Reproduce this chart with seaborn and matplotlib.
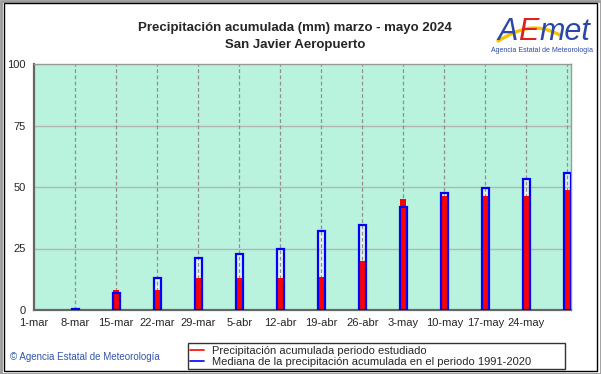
import numpy as np
import pandas as pd
import seaborn as sns
import matplotlib.pyplot as plt
from matplotlib.patches import Rectangle
from matplotlib.lines import Line2D

# etiquetas del eje x (una por semana) y dias desde el 1 de marzo
etiquetas = ['1-mar', '8-mar', '15-mar', '22-mar', '29-mar', '5-abr', '12-abr',
             '19-abr', '26-abr', '3-may', '10-may', '17-may', '24-may']
dias_etiquetas = [0, 7, 14, 21, 28, 35, 42, 49, 56, 63, 70, 77, 84]

# barras: del 8-mar al 31-may
dias_barras = [7, 14, 21, 28, 35, 42, 49, 56, 63, 70, 77, 84, 91]
mediana = [0.6, 6.8, 12.9, 21.0, 22.6, 24.7, 32.1, 34.6, 41.7, 47.4, 49.7, 53.4, 55.8]
observada = [0.0, 8.0, 8.1, 12.9, 13.1, 13.1, 13.6, 19.9, 45.3, 46.3, 46.3, 46.3, 48.8]

df = pd.DataFrame({'dia': dias_barras, 'mediana': mediana, 'observada': observada})

sns.set_theme(style='white')
plt.rcParams['font.family'] = ['Liberation Sans', 'DejaVu Sans']

fig = plt.figure(figsize=(6.01, 3.74), dpi=100)
ax = fig.add_axes([34 / 601, 64 / 374, 537 / 601, 246 / 374])
ax.set_facecolor('#b9f2dd')

# relleno claro de la mediana
sns.barplot(data=df, x='dia', y='mediana', native_scale=True, width=0.17,
            color='#e2f5ee', saturation=1, edgecolor='none', linewidth=0, zorder=1, ax=ax)
# rejilla
for v in [25, 50, 75]:
    ax.axhline(v, color='#b5b5b5', lw=1, zorder=1.5)
for d in dias_barras:
    ax.axvline(d, color='#8f8f8f', lw=0.9, ls=(0, (3, 2)), zorder=1.5)
# precipitacion observada
sns.barplot(data=df, x='dia', y='observada', native_scale=True, width=0.15,
            color='#ff0000', saturation=1, edgecolor='none', linewidth=0, zorder=3, ax=ax)
# contorno de la mediana
sns.barplot(data=df, x='dia', y='mediana', native_scale=True, width=0.17,
            color='#0000ff', saturation=1, fill=False, linewidth=1.6, zorder=4, ax=ax)

ax.set_xlim(0, 91.6)
ax.set_ylim(0, 100)
ax.set_xticks(dias_etiquetas)
ax.set_xticklabels(etiquetas, fontsize=8)
ax.set_yticks([0, 25, 50, 75, 100])
ax.set_yticklabels(['0', '25', '50', '75', '100'], fontsize=8)
ax.tick_params(axis='both', length=0, pad=6)
ax.set_xlabel('')
ax.set_ylabel('')
for lado in ['top', 'right']:
    ax.spines[lado].set_color('#999999')
    ax.spines[lado].set_linewidth(1)
for lado in ['left', 'bottom']:
    ax.spines[lado].set_color('#666666')
    ax.spines[lado].set_linewidth(1.6)

fig.text(295 / 601, 1 - 28 / 374, 'Precipitación acumulada (mm) marzo - mayo 2024',
         ha='center', va='center', fontsize=9.5, fontweight='bold')
fig.text(295 / 601, 1 - 45 / 374, 'San Javier Aeropuerto',
         ha='center', va='center', fontsize=9.5, fontweight='bold')

# logo AEMET aproximado
t = np.linspace(0, 1, 30)
fig.add_artist(Line2D((498 + 62 * t) / 601, 1 - (41 - 13 * np.sin(np.pi * t * 0.85)) / 374,
                      color='#f5c400', lw=2.4, transform=fig.transFigure))
fig.text(497 / 601, 1 - 40 / 374, 'A', ha='left', va='baseline', fontsize=22,
         style='italic', color='#2b48a8')
fig.text(518 / 601, 1 - 40 / 374, 'E', ha='left', va='baseline', fontsize=22,
         style='italic', color='#e02020')
fig.text(539 / 601, 1 - 40 / 374, 'met', ha='left', va='baseline', fontsize=22,
         style='italic', color='#2b48a8')
fig.text(542 / 601, 1 - 50 / 374, 'Agencia Estatal de Meteorología', ha='center', va='center',
         fontsize=5, color='#2b48a8')

fig.text(10 / 601, 1 - 357 / 374, '© Agencia Estatal de Meteorología', ha='left', va='center',
         fontsize=7, color='#3355aa')

manejadores = [Line2D([0], [0], color='red', lw=1.2), Line2D([0], [0], color='blue', lw=1.2)]
nombres = ['Precipitación acumulada periodo estudiado',
           'Mediana de la precipitación acumulada en el periodo 1991-2020']
leg = fig.legend(manejadores, nombres, loc='lower left',
                 bbox_to_anchor=(188 / 601, 5 / 374, 377 / 601, 27 / 374), mode='expand',
                 fontsize=8, frameon=True, fancybox=False, handlelength=1.2,
                 handletextpad=0.8, borderpad=0.2, labelspacing=0.1, borderaxespad=0)
leg.get_frame().set_edgecolor('black')
leg.get_frame().set_linewidth(1)

fig.add_artist(Rectangle((0.5 / 601, 0.5 / 374), 600 / 601, 373 / 374, fill=False,
                         edgecolor='#999999', lw=2, transform=fig.transFigure))
fig.add_artist(Rectangle((4 / 601, 3 / 374), 593 / 601, 368 / 374, fill=False,
                         edgecolor='black', lw=1, transform=fig.transFigure))

fig.savefig('out.png', dpi=100)
